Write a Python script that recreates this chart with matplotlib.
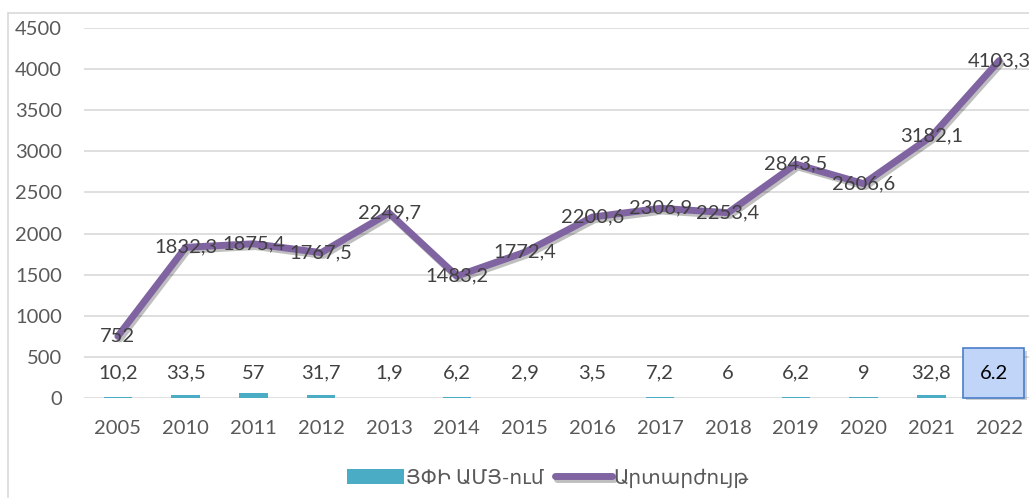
import matplotlib.pyplot as plt
import matplotlib.patheffects as pe
from matplotlib.patches import Rectangle
import numpy as np

years = ['2005', '2010', '2011', '2012', '2013', '2014', '2015', '2016',
         '2017', '2018', '2019', '2020', '2021', '2022']
fdi = [10.2, 33.5, 57, 31.7, 1.9, 6.2, 2.9, 3.5, 7.2, 6, 6.2, 9, 32.8, 6.2]
fdi_labels = ['10,2', '33,5', '57', '31,7', '1,9', '6,2', '2,9', '3,5',
              '7,2', '6', '6,2', '9', '32,8', '6.2']
currency = [752, 1832.3, 1875.4, 1767.5, 2249.7, 1483.2, 1772.4, 2200.6,
            2306.9, 2253.4, 2843.5, 2606.6, 3182.1, 4103.3]
currency_labels = ['752', '1832,3', '1875,4', '1767,5', '2249,7', '1483,2',
                   '1772,4', '2200,6', '2306,9', '2253,4', '2843,5', '2606,6',
                   '3182,1', '4103,3']
legend_names = ['ՅՓԻ ԱՄՅ-ում', 'Արտարժույթ']

fonts = ['Lato', 'DejaVu Sans']
plt.rcParams['font.family'] = fonts
fs = 14.5

fig = plt.figure(figsize=(10.29, 4.98), dpi=100)
ax = fig.add_axes([0.0816, 0.2008, 0.9224, 0.743])

x = np.arange(len(years))

# chart border (only left and top visible in the crop)
fig.add_artist(Rectangle((8 / 1029, -0.1), 1.2, 1 - 13 / 498 + 0.1,
                         transform=fig.transFigure, fill=False,
                         edgecolor='#d9d9d9', lw=1.2))

bars = ax.bar(x, fdi, width=0.42, color='#4bacc6', zorder=3,
              label=legend_names[0])
line, = ax.plot(x, currency, color='#8064a2', lw=5, solid_capstyle='round',
                solid_joinstyle='round', zorder=4, label=legend_names[1])
line.set_path_effects([pe.SimpleLineShadow(offset=(1.5, -2), alpha=0.25),
                       pe.Normal()])

for i, lab in enumerate(currency_labels):
    ax.text(x[i], currency[i], lab, ha='center', va='center', fontsize=fs,
            color='#404040', zorder=5)

for i, lab in enumerate(fdi_labels):
    if i == len(fdi_labels) - 1:
        t = ax.annotate(lab, (x[i], 0), xytext=(-4, 18),
                        textcoords='offset points', ha='center', va='center',
                        fontsize=fs, color='black', zorder=6,
                        bbox=dict(boxstyle='square,pad=0.8', fc='#c0d5f8',
                                  ec='#4a7ec9', lw=1.2))
        t.get_bbox_patch().set_path_effects(
            [pe.SimplePatchShadow(offset=(2, -2), alpha=0.25), pe.Normal()])
    else:
        ax.annotate(lab, (x[i], 0), xytext=(0, 18),
                    textcoords='offset points', ha='center', va='center',
                    fontsize=fs, color='#404040', zorder=5)

ax.set_xlim(-0.5, len(years) - 0.5)
ax.set_ylim(0, 4500)
ax.set_yticks(np.arange(0, 4501, 500))
ax.set_xticks(x)
ax.set_xticklabels(years)
ax.yaxis.grid(True, color='#d9d9d9', lw=1.2, zorder=0)
ax.set_axisbelow(True)
for s in ax.spines.values():
    s.set_visible(False)
ax.tick_params(axis='both', length=0, labelsize=fs, labelcolor='#595959')
ax.tick_params(axis='y', pad=16)
ax.tick_params(axis='x', pad=16)

fig.legend(handles=[bars, line], labels=legend_names, loc='center',
           bbox_to_anchor=(548 / 1029, 1 - 478 / 498), ncol=2, frameon=False,
           fontsize=fs, labelcolor='#595959', handlelength=2.8,
           handleheight=0.8, handletextpad=0.1, columnspacing=0.6)

fig.savefig('out.png', dpi=100)
